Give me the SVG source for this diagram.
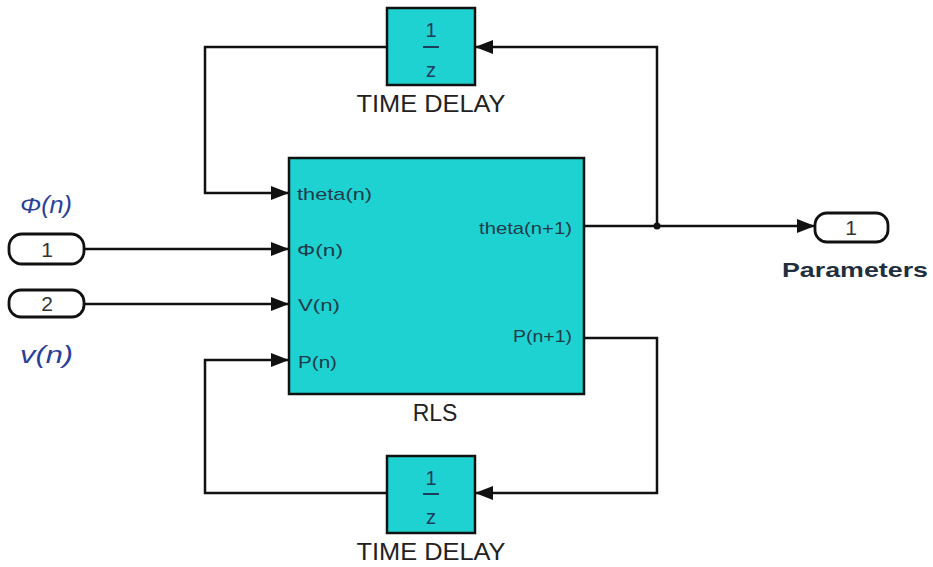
<svg xmlns="http://www.w3.org/2000/svg" width="933" height="567" viewBox="0 0 933 567">
<style>
.blk{fill:#1ed2d2;stroke:#111;stroke-width:2.5}
.port{fill:#fff;stroke:#111;stroke-width:2.8}
.ln{fill:none;stroke:#111;stroke-width:2.5}
.t{font-family:"Liberation Sans",Arial,sans-serif;}
.pl{font-family:"Liberation Sans",Arial,sans-serif;font-size:17px;fill:#1f3b48}
.frac{font-family:"Liberation Sans",Arial,sans-serif;font-size:20px;fill:#1b3d5c;text-anchor:middle}
.lbl{font-family:"Liberation Sans",Arial,sans-serif;font-size:23px;fill:#222;text-anchor:middle}
.num{font-family:"Liberation Sans",Arial,sans-serif;font-size:21px;fill:#333;text-anchor:middle}
.sig{font-family:"Liberation Sans",Arial,sans-serif;font-size:23px;font-style:italic;fill:#2a3f9a}
</style>
<defs>
<marker id="ar" markerWidth="18" markerHeight="14" refX="18" refY="7" orient="auto" markerUnits="userSpaceOnUse">
<path d="M0,0 L18,7 L0,14 Z" fill="#111"/>
</marker>
</defs>
<rect width="933" height="567" fill="#fff"/>
<g id="connectors">
<path class="ln" d="M85,249 H289" marker-end="url(#ar)"/>
<path class="ln" d="M85,304 H289" marker-end="url(#ar)"/>
<path class="ln" d="M584,226 H815" marker-end="url(#ar)"/>
<path class="ln" d="M657,226 V47 H475" marker-end="url(#ar)"/>
<path class="ln" d="M387,47 H205 V193 H289" marker-end="url(#ar)"/>
<path class="ln" d="M584,338 H657 V493 H475" marker-end="url(#ar)"/>
<path class="ln" d="M387,493 H205 V360 H289" marker-end="url(#ar)"/>
<circle cx="657" cy="226" r="3.5" fill="#111"/>
</g>
<g id="delay_top">
<rect class="blk" x="387" y="8" width="88" height="77"/>
<text class="frac" x="431" y="37">1</text>
<line x1="423" y1="47" x2="439" y2="47" stroke="#1b3d5c" stroke-width="2"/>
<text class="frac" x="431" y="77">z</text>
<text class="lbl" x="431" y="112" textLength="149" lengthAdjust="spacingAndGlyphs">TIME DELAY</text>
</g>
<g id="rls">
<rect class="blk" x="289" y="158" width="295" height="236"/>
<text class="pl" x="297" y="200" textLength="75" lengthAdjust="spacingAndGlyphs">theta(n)</text>
<text class="pl" x="297" y="256" textLength="46" lengthAdjust="spacingAndGlyphs">Φ(n)</text>
<text class="pl" x="298" y="311" textLength="42" lengthAdjust="spacingAndGlyphs">V(n)</text>
<text class="pl" x="298" y="368" textLength="39" lengthAdjust="spacingAndGlyphs">P(n)</text>
<text class="pl" x="479" y="234" textLength="93" lengthAdjust="spacingAndGlyphs">theta(n+1)</text>
<text class="pl" x="513" y="342" textLength="59" lengthAdjust="spacingAndGlyphs">P(n+1)</text>
<text class="lbl" x="435" y="421">RLS</text>
</g>
<g id="delay_bottom">
<rect class="blk" x="387" y="456" width="88" height="77"/>
<text class="frac" x="431" y="485">1</text>
<line x1="423" y1="494" x2="439" y2="494" stroke="#1b3d5c" stroke-width="2"/>
<text class="frac" x="431" y="524">z</text>
<text class="lbl" x="431" y="560" textLength="149" lengthAdjust="spacingAndGlyphs">TIME DELAY</text>
</g>
<g id="in1">
<rect class="port" x="9" y="234" width="75" height="30" rx="13"/>
<text class="num" x="47" y="257">1</text>
<text class="sig" x="20" y="213" textLength="52" lengthAdjust="spacingAndGlyphs">Φ(n)</text>
</g>
<g id="in2">
<rect class="port" x="9" y="290" width="75" height="27" rx="12"/>
<text class="num" x="47" y="311">2</text>
<text class="sig" x="20" y="363" textLength="53" lengthAdjust="spacingAndGlyphs">v(n)</text>
</g>
<g id="out1">
<rect class="port" x="815" y="213" width="73" height="29" rx="12"/>
<text class="num" x="851" y="235">1</text>
<text class="t" x="782" y="277" font-size="21" font-weight="bold" fill="#1f2f3f" textLength="146" lengthAdjust="spacingAndGlyphs">Parameters</text>
</g>
</svg>
